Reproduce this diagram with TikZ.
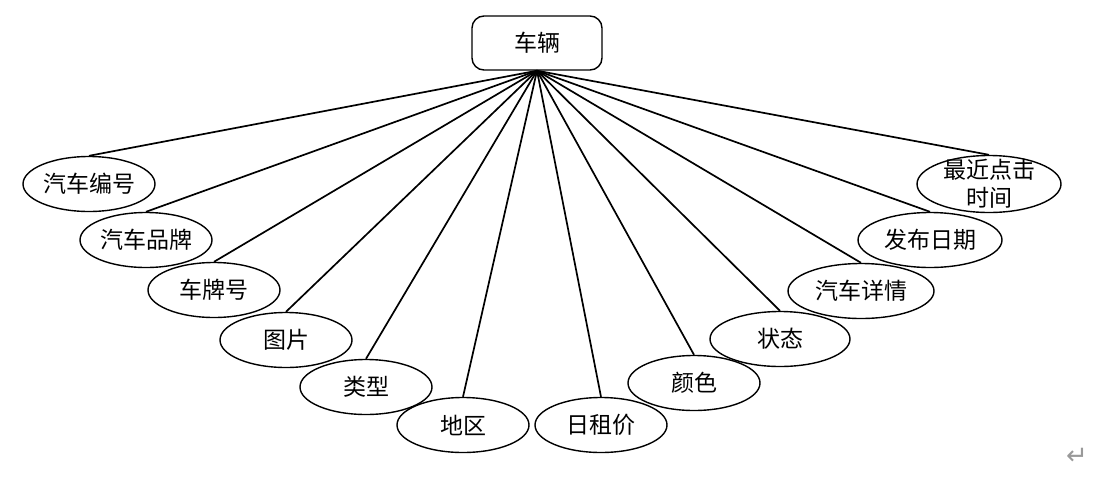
\documentclass[tikz,border=0pt]{standalone}
\usepackage{fontspec}
\newfontfamily\cjk{Noto Sans CJK SC}
\newfontfamily\dejavu{DejaVu Sans}
\usetikzlibrary{shapes.geometric}
\begin{document}
\begin{tikzpicture}[x=1pt,y=-1pt,
  ent/.style={draw=black,line width=1.4pt,rounded corners=12pt,minimum width=130pt,minimum height=54pt,inner sep=0pt,font=\cjk\fontsize{23}{26}\selectfont},
  attr/.style={ellipse,draw=black,line width=1.4pt,minimum width=132pt,minimum height=55pt,inner sep=0pt,align=center,font=\cjk\fontsize{23}{28}\selectfont},
  link/.style={line width=1.7pt}]
\useasboundingbox (0,0) rectangle (1115,488);
\node[ent] (car) at (537,43) {车辆};
\node[attr] (a1) at (89,184) {汽车编号};
\node[attr] (a2) at (146,240) {汽车品牌};
\node[attr] (a3) at (214,290) {车牌号};
\node[attr] (a4) at (286,340) {图片};
\node[attr] (a5) at (366,387) {类型};
\node[attr] (a6) at (463,425) {地区};
\node[attr] (a7) at (601,425) {日租价};
\node[attr] (a8) at (694,383) {颜色};
\node[attr,minimum width=140pt] (a9) at (780,339) {状态};
\node[attr,minimum width=146pt] (a10) at (861,291) {汽车详情};
\node[attr,minimum width=144pt] (a11) at (930,240) {发布日期};
\node[attr,minimum width=144pt,minimum height=57pt,inner ysep=-14pt] (a12) at (989,184) {最近点击\\时间};
\foreach \i in {1,...,12} {\draw[link] (car.south) -- (a\i.north);}
\node[text=gray!80,font=\dejavu\fontsize{26}{28}\selectfont] (ret) at (1077,456) {↵};
\end{tikzpicture}
\end{document}
